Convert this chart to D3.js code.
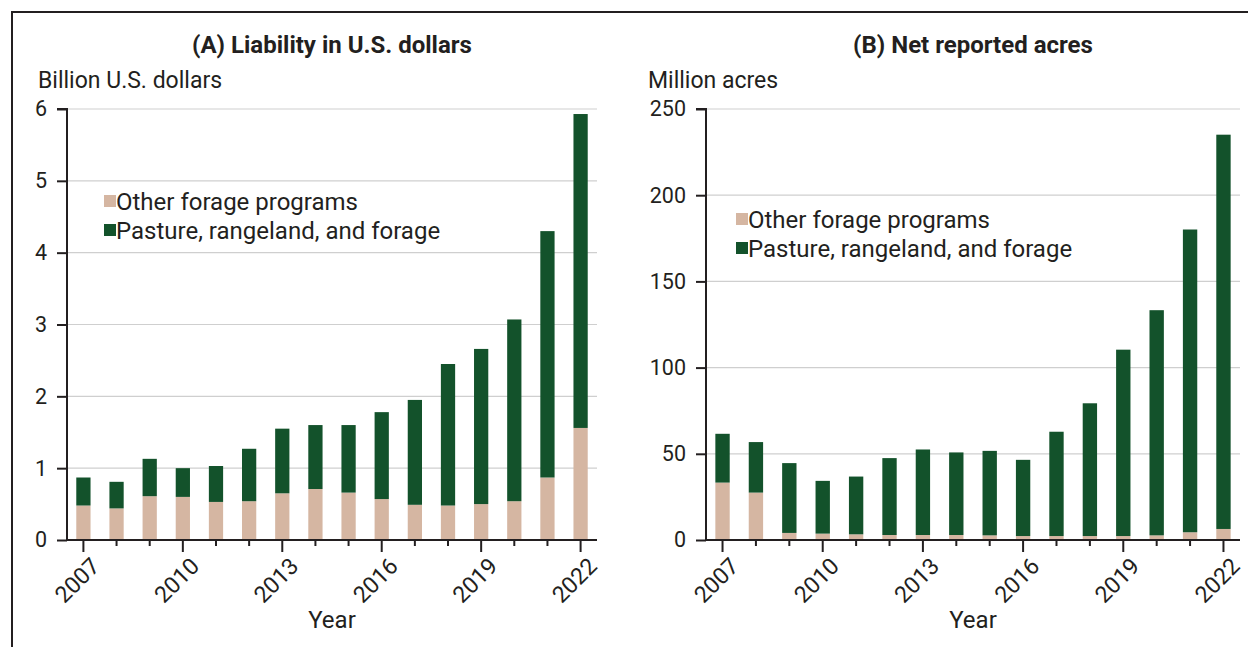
<!DOCTYPE html>
<html>
<head>
<meta charset="utf-8">
<script src="https://cdn.jsdelivr.net/npm/d3@7"></script>
<style>
  body { margin: 0; background: #fff; }
  svg text { font-family: Roboto, "Liberation Sans", sans-serif; fill: #231f20; }
</style>
</head>
<body>
<div id="chart"></div>
<script>
// data
var years = [2007, 2008, 2009, 2010, 2011, 2012, 2013, 2014, 2015, 2016, 2017, 2018, 2019, 2020, 2021, 2022];
var labelYears = [2007, 2010, 2013, 2016, 2019, 2022];
var seriesNames = ["Other forage programs", "Pasture, rangeland, and forage"];

// (A) liability, billion dollars
var liabOther   = [0.48, 0.44, 0.61, 0.60, 0.53, 0.54, 0.65, 0.71, 0.66, 0.57, 0.49, 0.48, 0.50, 0.54, 0.87, 1.56];
var liabPasture = [0.39, 0.37, 0.52, 0.40, 0.50, 0.73, 0.90, 0.89, 0.94, 1.21, 1.46, 1.97, 2.16, 2.53, 3.43, 4.37];
var liabTicks = [0, 1, 2, 3, 4, 5, 6];

// (B) net reported acres, million acres
var acresOther   = [33.3, 27.5, 4.1, 3.7, 3.3, 2.9, 2.9, 2.9, 2.7, 2.3, 2.3, 2.3, 2.3, 2.7, 4.5, 6.4];
var acresPasture = [28.3, 29.3, 40.5, 30.6, 33.5, 44.6, 49.6, 47.9, 49.0, 44.2, 60.5, 77.0, 108.1, 130.6, 175.6, 228.7];
var acresTicks = [0, 50, 100, 150, 200, 250];

var colors = ["#d5b6a2", "#13522b"];

var W = 1248, H = 647;
var svg = d3.select("#chart").append("svg")
    .attr("width", W)
    .attr("height", H);

// frame
svg.append("rect")
    .attr("x", 12).attr("y", 12)
    .attr("width", W + 10).attr("height", H + 10)
    .attr("fill", "none")
    .attr("stroke", "#231f20")
    .attr("stroke-width", 2);

function panel(opts) {
    var x0 = opts.left, x1 = opts.right, y0 = 540, y1 = 109;

    var x = d3.scaleBand().domain(years).range([x0, x1]).paddingInner(0.57).paddingOuter(0.28);
    var y = d3.scaleLinear().domain([0, opts.max]).range([y0, y1]);

    var g = svg.append("g");

    // title
    g.append("text")
        .attr("x", opts.titleX)
        .attr("y", 53)
        .attr("text-anchor", "middle")
        .style("font-size", "24px")
        .style("font-weight", "bold")
        .text(opts.title);

    // unit label
    g.append("text")
        .attr("x", opts.unitX)
        .attr("y", 88)
        .style("font-size", "23px")
        .text(opts.unit);

    // gridlines
    g.selectAll(".grid")
        .data(opts.ticks.filter(function(d) { return d > 0; }))
        .enter().append("line")
        .attr("x1", x0).attr("x2", x1)
        .attr("y1", function(d) { return y(d); })
        .attr("y2", function(d) { return y(d); })
        .attr("stroke", "#cfcfcf")
        .attr("stroke-width", 1.2);

    // stacked bars
    var rows = years.map(function(yr, i) {
        return {year: yr, other: opts.other[i], pasture: opts.pasture[i]};
    });
    var stack = d3.stack().keys(["other", "pasture"])(rows);

    g.selectAll(".layer")
        .data(stack)
        .enter().append("g")
        .attr("fill", function(d, i) { return colors[i]; })
        .selectAll("rect")
        .data(function(d) { return d; })
        .enter().append("rect")
        .attr("x", function(d) { return x(d.data.year); })
        .attr("width", x.bandwidth())
        .attr("y", function(d) { return y(d[1]); })
        .attr("height", function(d) { return y(d[0]) - y(d[1]); });

    // y axis
    var yAxis = g.append("g")
        .attr("transform", "translate(" + x0 + ",0)")
        .call(d3.axisLeft(y).tickValues(opts.ticks).tickFormat(d3.format("d")).tickSize(10).tickPadding(10));
    yAxis.select(".domain").attr("stroke", "#231f20").attr("stroke-width", 2)
        .attr("d", "M-10," + y1 + "H0V" + y0);
    yAxis.selectAll(".tick line").attr("stroke", "#231f20").attr("stroke-width", 2);
    yAxis.selectAll(".tick text").style("font-size", "21.5px").attr("fill", "#231f20")
        .style("font-family", "Roboto, sans-serif");

    // x axis
    var xAxis = g.append("g")
        .attr("transform", "translate(0," + y0 + ")")
        .call(d3.axisBottom(x).tickSize(0).tickFormat(""));
    xAxis.select(".domain").attr("stroke", "#231f20").attr("stroke-width", 2)
        .attr("d", "M" + x0 + ",0H" + x1);
    xAxis.selectAll(".tick line").remove();
    xAxis.selectAll(".tick")
        .append("line")
        .attr("stroke", "#231f20")
        .attr("stroke-width", 2)
        .attr("y1", 0)
        .attr("y2", function(d) { return labelYears.indexOf(d) >= 0 ? 12 : 6; });
    xAxis.selectAll(".tick text").remove();
    xAxis.selectAll(".tick")
        .filter(function(d) { return labelYears.indexOf(d) >= 0; })
        .append("text")
        .attr("transform", "translate(6,16) rotate(-45)")
        .attr("text-anchor", "end")
        .attr("dy", "0.72em")
        .attr("fill", "#231f20")
        .style("font-size", "23px")
        .style("font-family", "Roboto, sans-serif")
        .text(function(d) { return d; });

    // x title
    g.append("text")
        .attr("x", (x0 + x1) / 2)
        .attr("y", 628)
        .attr("text-anchor", "middle")
        .style("font-size", "24px")
        .text("Year");

    // legend
    var leg = g.selectAll(".legend")
        .data(seriesNames)
        .enter().append("g")
        .attr("transform", function(d, i) { return "translate(" + opts.legX + "," + (opts.legY + i * 29) + ")"; });
    leg.append("rect")
        .attr("x", 0).attr("y", -15)
        .attr("width", 12).attr("height", 12)
        .attr("fill", function(d, i) { return colors[i]; });
    leg.append("text")
        .attr("x", 12)
        .attr("y", 0)
        .style("font-size", "24px")
        .text(function(d) { return d; });
}

panel({
    left: 67, right: 597, max: 6, ticks: liabTicks,
    other: liabOther, pasture: liabPasture,
    title: "(A) Liability in U.S. dollars", titleX: 332,
    unit: "Billion U.S. dollars", unitX: 38,
    legX: 104, legY: 210
});

panel({
    left: 706, right: 1240, max: 250, ticks: acresTicks,
    other: acresOther, pasture: acresPasture,
    title: "(B) Net reported acres", titleX: 973,
    unit: "Million acres", unitX: 648,
    legX: 736, legY: 228
});
</script>
</body>
</html>
